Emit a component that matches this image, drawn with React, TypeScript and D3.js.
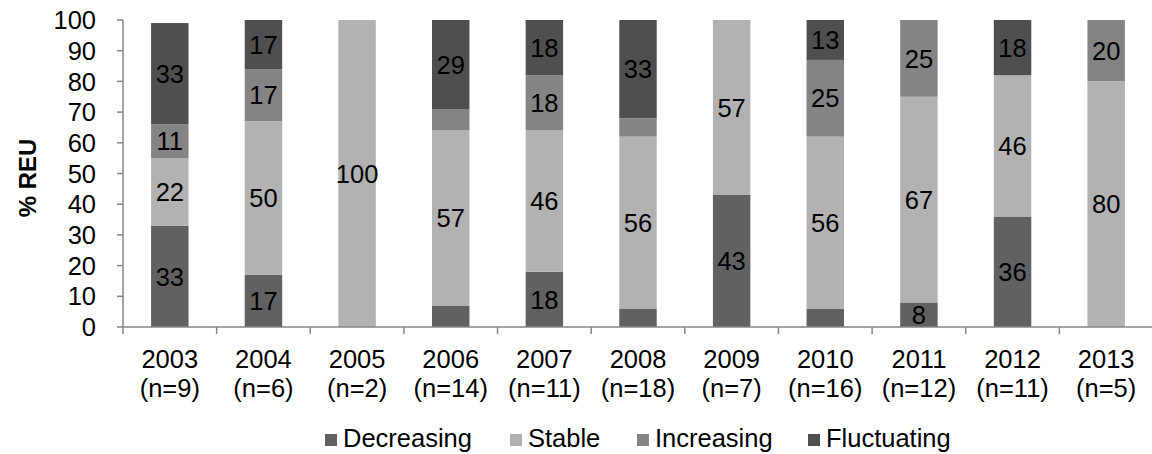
import React from "react";
import * as d3 from "d3";

// Share of REUs (%) per trend class, by year
const years = ["2003", "2004", "2005", "2006", "2007", "2008", "2009", "2010", "2011", "2012", "2013"];
const sampleSizes = ["n=9", "n=6", "n=2", "n=14", "n=11", "n=18", "n=7", "n=16", "n=12", "n=11", "n=5"];
const decreasing = [33, 17, 0, 7, 18, 6, 43, 6, 8, 36, 0];
const stable = [22, 50, 100, 57, 46, 56, 57, 56, 67, 46, 80];
const increasing = [11, 17, 0, 7, 18, 6, 0, 25, 25, 0, 20];
const fluctuating = [33, 17, 0, 29, 18, 33, 0, 13, 0, 18, 0];
const seriesNames = ["Decreasing", "Stable", "Increasing", "Fluctuating"];
const yTicks = [0, 10, 20, 30, 40, 50, 60, 70, 80, 90, 100];

const colors = ["#616161", "#b2b2b2", "#848484", "#4f4f4f"];
const FONT = "'Liberation Sans', Arial, sans-serif";
const FS = 25.5;

export default function App() {
  const W = 1152;
  const H = 454;
  const left = 123;
  const right = 1153;
  const top = 20;
  const bottom = 327;

  const x = d3.scaleBand().domain(years).range([left, right]).paddingInner(0.6).paddingOuter(0.3);
  const xStep = (right - left) / years.length;
  const y = d3.scaleLinear().domain([0, 100]).range([bottom, top]);

  const seriesValues = [decreasing, stable, increasing, fluctuating];
  const rows = years.map((yr, i) => {
    const r: Record<string, number | string> = { year: yr };
    seriesNames.forEach((s, k) => (r[s] = seriesValues[k][i]));
    return r;
  });
  const stacked = d3.stack<any>().keys(seriesNames)(rows);

  const legendX = [325, 510, 637, 808];

  return (
    <svg width={W} height={H} style={{ position: "absolute", left: 0, top: 0, background: "#fff" }} fontFamily={FONT}>
      <defs>
        <clipPath id="plot">
          <rect x={left} y={top} width={right - left} height={bottom - top} />
        </clipPath>
      </defs>

      {/* stacked bars */}
      <g clipPath="url(#plot)">
        {stacked.map((layer, k) =>
          layer.map((d, i) => {
            const h = y(d[0]) - y(d[1]);
            if (h <= 0) return null;
            return (
              <rect
                key={`${k}-${i}`}
                x={x(years[i])}
                y={y(d[1])}
                width={x.bandwidth()}
                height={h}
                fill={colors[k]}
              />
            );
          })
        )}
      </g>

      {/* value labels */}
      {stacked.map((layer, k) =>
        layer.map((d, i) => {
          const v = seriesValues[k][i];
          if (v < 8) return null;
          const mid = (Math.min(d[0], 100) + Math.min(d[1], 100)) / 2;
          return (
            <text
              key={`l${k}-${i}`}
              x={(x(years[i]) as number) + x.bandwidth() / 2}
              y={y(mid)}
              dy="0.36em"
              textAnchor="middle"
              fontSize={FS}
              fill="#000"
            >
              {v}
            </text>
          );
        })
      )}

      {/* y axis */}
      <line x1={left} x2={left} y1={top} y2={bottom} stroke="#868686" strokeWidth={1.5} />
      {yTicks.map((t) => (
        <g key={t}>
          <line x1={left - 6} x2={left} y1={y(t)} y2={y(t)} stroke="#868686" strokeWidth={1.5} />
          <text x={96} y={y(t)} dy="0.36em" textAnchor="end" fontSize={FS} fill="#000">
            {t}
          </text>
        </g>
      ))}
      <text
        transform={`translate(36,178) rotate(-90)`}
        textAnchor="middle"
        fontSize={24}
        fontWeight="bold"
        fill="#000"
      >
        % REU
      </text>

      {/* x axis */}
      <line x1={left} x2={right} y1={bottom} y2={bottom} stroke="#868686" strokeWidth={1.5} />
      {d3.range(years.length + 1).map((i) => (
        <line key={i} x1={left + i * xStep} x2={left + i * xStep} y1={bottom} y2={bottom + 7} stroke="#868686" strokeWidth={1.5} />
      ))}
      {years.map((yr, i) => {
        const cx = (x(yr) as number) + x.bandwidth() / 2;
        return (
          <text key={yr} x={cx} textAnchor="middle" fontSize={FS} fill="#000">
            <tspan x={cx} y={368}>{yr}</tspan>
            <tspan x={cx} y={397}>({sampleSizes[i]})</tspan>
          </text>
        );
      })}

      {/* legend */}
      {seriesNames.map((s, k) => (
        <g key={s}>
          <rect x={legendX[k]} y={434} width={12} height={12} fill={colors[k]} />
          <text x={legendX[k] + 18} y={447} fontSize={FS} fill="#000">
            {s}
          </text>
        </g>
      ))}
    </svg>
  );
}
